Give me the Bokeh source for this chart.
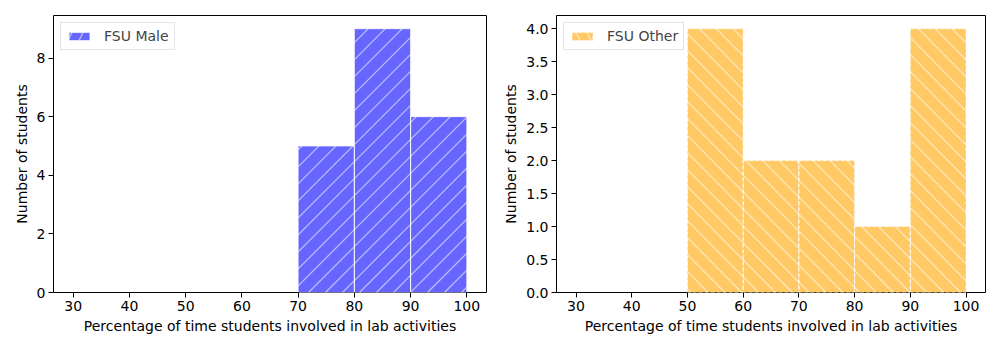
import numpy as np
from bokeh.plotting import figure
from bokeh.layouts import row
from bokeh.models import (Range1d, FixedTicker, NumeralTickFormatter, Legend, LegendItem,
                          ColumnDataSource)
from bokeh.embed import file_html
from bokeh.resources import INLINE

# Data
bin_left = [30, 40, 50, 60, 70, 80, 90]
bin_right = [40, 50, 60, 70, 80, 90, 100]
male_counts = [0, 0, 0, 0, 5, 9, 6]
other_counts = [0, 0, 4, 2, 2, 1, 4]
x_ticks = [30, 40, 50, 60, 70, 80, 90, 100]
male_yticks = [0, 2, 4, 6, 8]
other_yticks = [0, 0.5, 1.0, 1.5, 2.0, 2.5, 3.0, 3.5, 4.0]
x_label = "Percentage of time students involved in lab activities"
y_label = "Number of students"

FONT = "DejaVu Sans"
FRAME_W, FRAME_H = 433, 277
X0, X1 = 26.5, 103.5
HATCH_SPACING = 17  # px, horizontal spacing of matplotlib hatch lines


def hatch_segments(lefts, rights, tops, y1, forward):
    """45-degree (on screen) hatch lines clipped to each bar, returned in data units."""
    kx = FRAME_W / (X1 - X0)
    ky = FRAME_H / y1
    xs0, ys0, xs1, ys1 = [], [], [], []
    for l, r_, t in zip(lefts, rights, tops):
        L, R, T = (l - X0) * kx, (r_ - X0) * kx, t * ky
        if forward:
            dmin, dmax = L - T, R
        else:
            dmin, dmax = L, R + T
        k0 = int(np.floor(dmin / HATCH_SPACING)) - 1
        k1 = int(np.ceil(dmax / HATCH_SPACING)) + 1
        for k in range(k0, k1 + 1):
            d = k * HATCH_SPACING
            if forward:
                lo, hi = max(0.0, L - d), min(T, R - d)
                if hi - lo <= 0.5:
                    continue
                pa, pb = (lo + d, lo), (hi + d, hi)
            else:
                lo, hi = max(0.0, d - R), min(T, d - L)
                if hi - lo <= 0.5:
                    continue
                pa, pb = (d - lo, lo), (d - hi, hi)
            xs0.append(X0 + pa[0] / kx); ys0.append(pa[1] / ky)
            xs1.append(X0 + pb[0] / kx); ys1.append(pb[1] / ky)
    return dict(x0=xs0, y0=ys0, x1=xs1, y1=ys1)


def make_fig(counts, label, fill, forward, dash, yticks, ytop, fmt, border_left, border_right):
    keep = [i for i, c in enumerate(counts) if c > 0]
    lefts = [bin_left[i] for i in keep]
    rights = [bin_right[i] for i in keep]
    tops = [counts[i] for i in keep]
    src = ColumnDataSource(dict(left=lefts, right=rights, top=tops, bottom=[0] * len(keep)))
    p = figure(width=border_left + FRAME_W + border_right, height=350, output_backend="svg",
               toolbar_location=None,
               x_range=Range1d(X0, X1), y_range=Range1d(0, ytop),
               min_border_left=border_left, min_border_right=border_right,
               min_border_top=15, min_border_bottom=58)
    p.quad(left="left", right="right", top="top", bottom="bottom", source=src,
           fill_color=fill, fill_alpha=1.0, line_color=None)
    p.segment(x0="x0", y0="y0", x1="x1", y1="y1",
              source=ColumnDataSource(hatch_segments(lefts, rights, tops, ytop, forward)),
              line_color="white", line_alpha=0.6, line_width=1.2)
    p.quad(left="left", right="right", top="top", bottom="bottom", source=src,
           fill_color=None, line_color="white", line_alpha=0.75, line_width=1, line_dash=dash)
    # legend proxy (hidden) with hatch
    leg_r = p.quad(left="left", right="right", top="top", bottom="bottom", source=src,
                   fill_color=fill, fill_alpha=1.0,
                   line_color="white", line_alpha=0.6, line_dash=dash,
                   hatch_pattern="/" if forward else "\\", hatch_color="white",
                   hatch_alpha=0.6, hatch_scale=22, hatch_weight=1.2, visible=False)
    p.xgrid.visible = False
    p.ygrid.visible = False
    p.outline_line_color = "black"
    p.outline_line_width = 1
    p.outline_line_alpha = 1
    p.xaxis.ticker = FixedTicker(ticks=x_ticks)
    p.yaxis.ticker = FixedTicker(ticks=yticks)
    if fmt:
        p.yaxis.formatter = NumeralTickFormatter(format=fmt)
    p.xaxis.axis_label = x_label
    p.yaxis.axis_label = y_label
    for ax in (p.xaxis[0], p.yaxis[0]):
        ax.axis_label_text_font = FONT
        ax.axis_label_text_font_size = "14px"
        ax.axis_label_text_font_style = "normal"
        ax.axis_label_text_color = "black"
        ax.major_label_text_font = FONT
        ax.major_label_text_font_size = "14px"
        ax.major_label_text_color = "black"
        ax.major_tick_in = 0
        ax.major_tick_out = 5
        ax.minor_tick_in = 0
        ax.minor_tick_out = 0
        ax.axis_line_color = None
        ax.major_tick_line_color = "black"
        ax.major_label_standoff = 3
        ax.axis_label_standoff = 4
    legend = Legend(items=[LegendItem(label=label, renderers=[leg_r])], location="top_left")
    legend.margin = 7
    legend.padding = 5
    legend.label_text_font = FONT
    legend.label_text_font_size = "14px"
    legend.glyph_width = 26
    legend.glyph_height = 10
    legend.label_standoff = 12
    legend.border_line_color = "#cccccc"
    legend.border_line_width = 1
    legend.background_fill_alpha = 0.8
    legend.label_height = 14
    legend.inactive_fill_alpha = 0.0
    p.add_layout(legend)
    return p


p1 = make_fig(male_counts, "FSU Male", "#6666ff", True, "solid", male_yticks, 9.45, None, 53, 14)
p2 = make_fig(other_counts, "FSU Other", "#ffc966", False, "4 2", other_yticks, 4.2, "0.0", 52, 15)

layout = row(p1, p2)
open("out.html", "w").write(file_html(layout, INLINE))
